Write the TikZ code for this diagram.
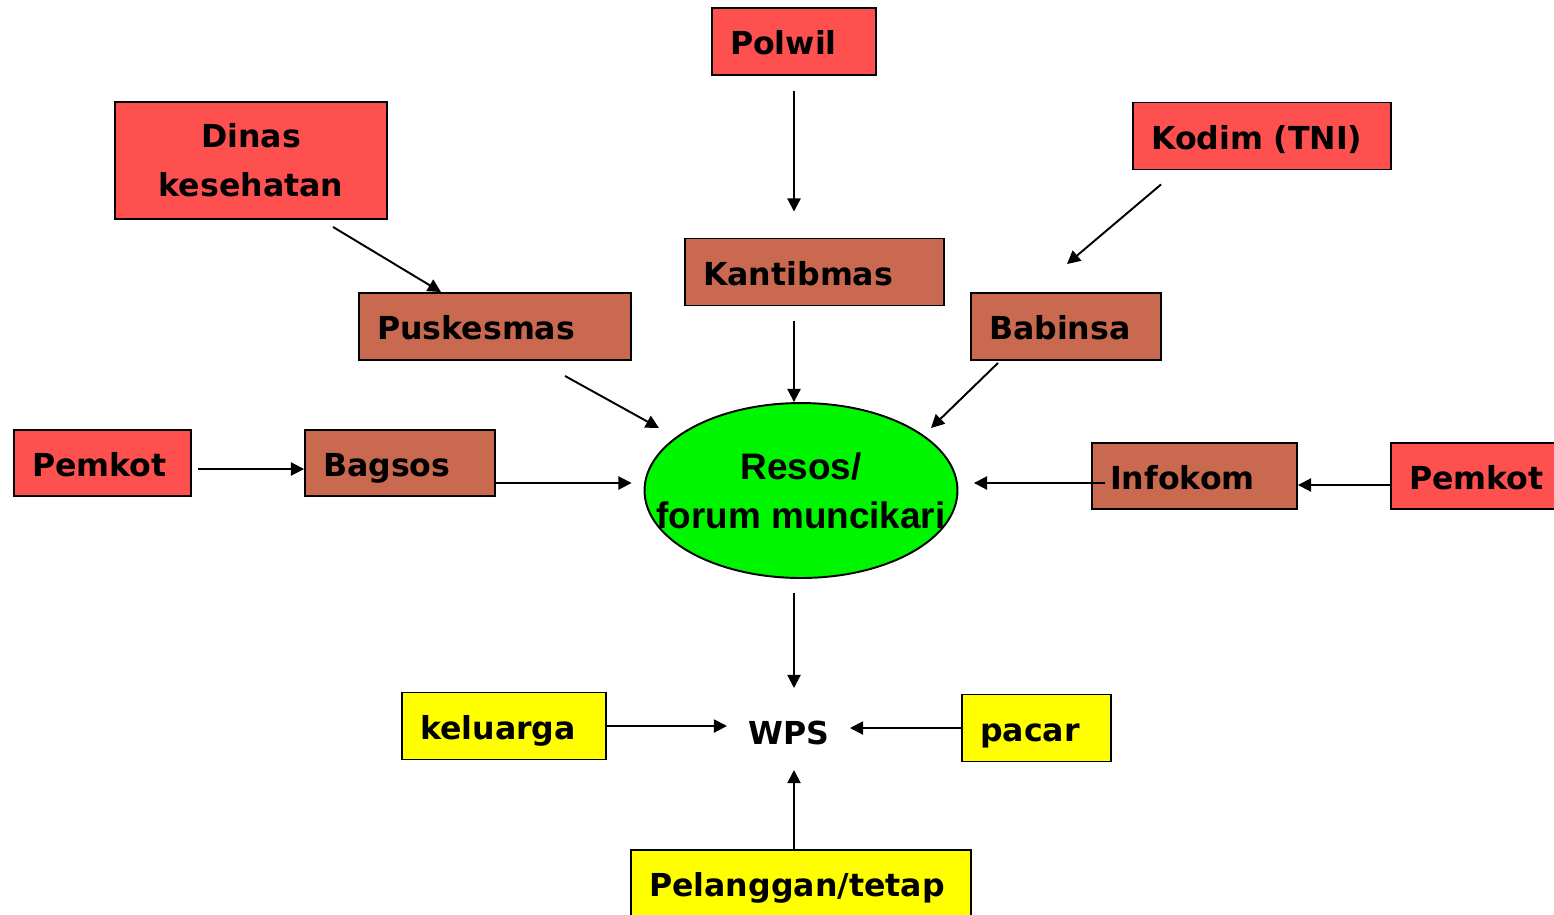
\documentclass[tikz,border=0pt]{standalone}
\usepackage{fontspec}
\setmainfont{DejaVu Sans}
\newfontfamily\ellfont{Liberation Sans}
\usetikzlibrary{arrows.meta,calc,shapes.geometric}
\definecolor{boxred}{RGB}{255,80,80}
\definecolor{boxbrown}{RGB}{200,105,80}
\definecolor{ellgreen}{RGB}{0,245,0}
\definecolor{boxyellow}{RGB}{255,255,0}
\tikzset{
  basebox/.style={draw=black, line width=1.1pt, rectangle, minimum height=1.34cm,
    inner xsep=0.36cm, inner ysep=0pt, align=left,
    font=\fontsize{18}{28}\selectfont\bfseries},
  oneline/.style={text height=14.8pt, text depth=0pt},
  redbox/.style={basebox, fill=boxred},
  brownbox/.style={basebox, oneline, fill=boxbrown},
  yellowbox/.style={basebox, oneline, fill=boxyellow},
  arr/.style={line width=1.1pt, -{Triangle[length=7.5pt,width=7.5pt]}},
}
\begin{document}
\begin{tikzpicture}[x=0.02cm,y=-0.02cm]
\useasboundingbox (0,0) rectangle (1554,914);
% top tier
\node[redbox, oneline, minimum width=3.28cm, text width=2.56cm] (polwil) at (794,41.5) {Polwil};
\node[redbox, minimum width=5.44cm, minimum height=2.34cm, text width=4.72cm, align=center] (dinas) at (251,160.5) {Dinas\\kesehatan};
\node[redbox, oneline, minimum width=5.16cm, text width=4.44cm] (kodim) at (1262,136) {Kodim (TNI)};
% second tier
\node[brownbox, minimum width=5.18cm, text width=4.46cm] (kantibmas) at (814.5,272) {Kantibmas};
\node[brownbox, minimum width=5.44cm, text width=4.72cm] (puskesmas) at (495,326.5) {Puskesmas};
\node[brownbox, minimum width=3.8cm, text width=3.08cm] (babinsa) at (1066,326.5) {Babinsa};
% middle row
\node[redbox, oneline, minimum width=3.54cm, minimum height=1.32cm, text width=2.82cm] (pemkotl) at (102.5,463) {Pemkot};
\node[brownbox, minimum width=3.8cm, minimum height=1.32cm, text width=3.08cm] (bagsos) at (400,463) {Bagsos};
\node[brownbox, minimum width=4.1cm, minimum height=1.32cm, text width=3.38cm] (infokom) at (1194.5,476) {Infokom};
\node[redbox, oneline, minimum width=3.6cm, minimum height=1.32cm, text width=2.88cm] (pemkotr) at (1481,476) {Pemkot};
% ellipse
\node[ellipse, draw=black, line width=1.1pt, fill=ellgreen, minimum width=6.26cm, minimum height=3.5cm,
  inner sep=0pt, align=center, font=\fontsize{21}{28}\selectfont\ellfont\bfseries] (resos) at (801,490.5)
  {\makebox[0pt]{Resos/}\\\makebox[0pt]{forum muncikari}};
% bottom
\node[font=\fontsize{18}{28}\selectfont\bfseries, inner sep=0pt] (wps) at (789,733) {WPS};
\node[yellowbox, minimum width=4.08cm, text width=3.36cm] (keluarga) at (504,726) {keluarga};
\node[yellowbox, minimum width=2.98cm, text width=2.26cm] (pacar) at (1036.5,728) {pacar};
\node[yellowbox, minimum width=6.8cm, text width=6.08cm] (pelanggan) at (801,883.5) {Pelanggan/tetap};
% connectors
\draw[arr] ($(polwil.south)+(0,15)$) -- ($(polwil.south |- kantibmas.north)+(0,-26)$);
\draw[arr] ($(dinas.south)+(82,7)$) -- ($(puskesmas.north)+(-54,0)$);
\draw[arr] ($(kodim.south)+(-101,14)$) -- ($(babinsa.north)+(1,-28)$);
\draw[arr] ($(kantibmas.south)+(-20.5,15)$) -- ($(resos.north)+(-7,0)$);
\draw[arr] ($(puskesmas.south)+(70,15)$) -- ($(resos.center)+(-142,-62.5)$);
\draw[arr] ($(babinsa.south)+(-68,2)$) -- ($(resos.center)+(130,-62.5)$);
\draw[arr] ($(pemkotl.east)+(6,6)$) -- ($(bagsos.west)+(0,6)$);
\draw[arr] ($(bagsos.east)+(0,20)$) -- ($(resos.west)+(-12,-7.5)$);
\draw[arr] ($(infokom.west)+(14,7)$) -- ($(resos.east)+(15.5,-7.5)$);
\draw[arr] ($(pemkotr.west)+(0,9)$) -- ($(infokom.east)+(0,9)$);
\draw[arr] ($(resos.south)+(-7,14)$) -- ($(wps.center)+(5,-45)$);
\draw[arr] (keluarga.east) -- ($(wps.center)+(-62,-7)$);
\draw[arr] (pacar.west) -- ($(wps.center)+(61,-5)$);
\draw[arr] ($(pelanggan.north)+(-7,0)$) -- ($(wps.center)+(5,37)$);
\end{tikzpicture}
\end{document}
